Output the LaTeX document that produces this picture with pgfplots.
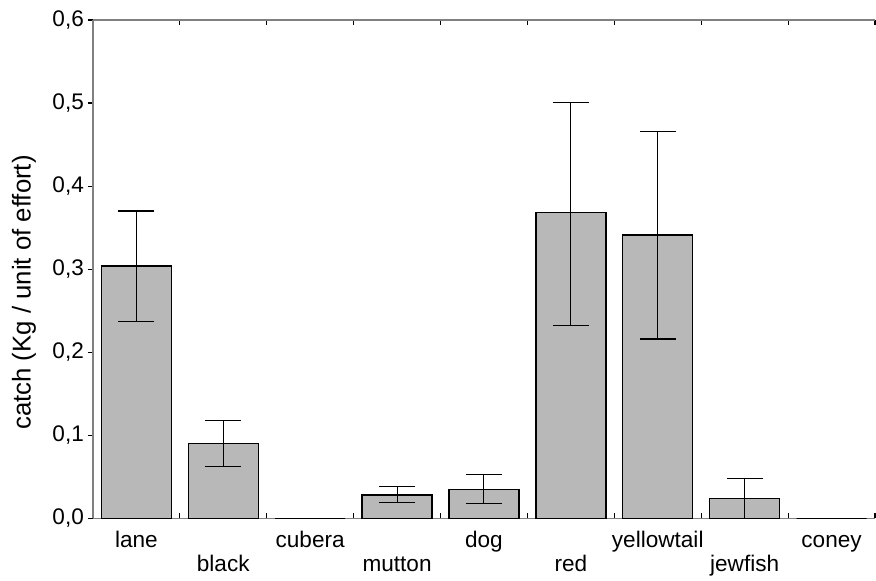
\documentclass[border=0pt]{standalone}
\usepackage{fontspec}
\setmainfont{Liberation Sans}
\usepackage{pgfplots}
\pgfplotsset{compat=1.18}

% catch per unit of effort, with upper (ep) and lower (em) error extents
\pgfplotstableread{
x   y      ep     em
0   0.304  0.066  0.067
1   0.090  0.028  0.0275
2   0.000  0.000  0.000
3   0.028  0.010  0.009
4   0.035  0.018  0.017
5   0.368  0.133  0.136
6   0.341  0.125  0.125
7   0.024  0.024  0.024
8   0.000  0.000  0.000
}\catchdata

\begin{document}
\begin{tikzpicture}[font=\fontsize{11.3}{13.5}\selectfont]
\useasboundingbox (-46.5pt,-31pt) rectangle (392pt,259.5pt);
\begin{axis}[
  scale only axis,
  width=391.5pt, height=249.5pt,
  xmin=-0.5, xmax=8.5,
  ymin=0, ymax=0.6,
  axis y line*=left,
  axis line style={draw=gray, line width=0.9pt},
  /pgf/number format/assume math mode=true,
  /pgf/number format/use comma,
  /pgf/number format/fixed,
  /pgf/number format/fixed zerofill,
  /pgf/number format/precision=1,
  ytick={0,0.1,...,0.6},
  ytick pos=left,
  y tick style={xshift=-2.5pt, black, line width=0.6pt},
  major tick length=2.5pt,
  yticklabel style={anchor=east, xshift=-1pt},
  xtick={0,2,4,6,8},
  xticklabels={lane,cubera,dog,yellowtail,coney},
  extra x ticks={1,3,5,7},
  extra x tick labels={black,mutton,red,jewfish},
  x tick style={draw=none},
  xticklabel style={anchor=base, yshift=-14.5pt},
  extra x tick style={xticklabel style={yshift=-12pt}},
  minor xtick={-0.5,0.5,...,8.5},
  minor tick length=2.5pt,
  minor x tick style={draw=black, line width=0.6pt},
  xtick pos=both,
  ylabel={catch (Kg / unit of effort)},
  ylabel style={at={(rel axis cs:-0.088,0.453)}, anchor=center,
    font=\fontsize{12.9}{15}\selectfont},
  clip=false,
]
\addplot[ybar, bar width=35pt, fill=black!28, draw=black, line width=0.7pt,
  error bars/.cd, y dir=both, y explicit,
  error bar style={black, line width=0.5pt},
  error mark options={rotate=90, black, line width=0.6pt, mark size=9pt}]
  table[x=x, y=y, y error plus=ep, y error minus=em] {\catchdata};
\end{axis}
\end{tikzpicture}
\end{document}
